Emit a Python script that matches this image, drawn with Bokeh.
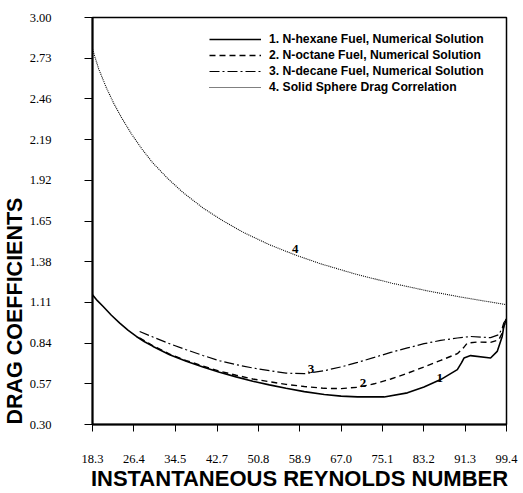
from bokeh.embed import file_html
from bokeh.models import FixedTicker, Legend, LegendItem, NumeralTickFormatter, Range1d, Title
from bokeh.plotting import figure
from bokeh.resources import INLINE

# Axis ticks
x_ticks = [18.3, 26.4, 34.5, 42.7, 50.8, 58.9, 67.0, 75.1, 83.2, 91.3, 99.4]
y_ticks = [0.30, 0.57, 0.84, 1.11, 1.38, 1.65, 1.92, 2.19, 2.46, 2.73, 3.00]

# 1. N-hexane fuel, numerical solution
hexane_re = [18.3, 19.3, 20.39, 22.0, 23.64, 25.3, 26.90, 28.5, 30.16, 33.41, 36.67, 39.93,
             43.18, 46.44, 49.70, 52.95, 56.21, 59.79, 63.70, 67.0, 70.22, 75.42, 79.99,
             83.24, 86.50, 89.77, 90.6, 91.07, 92.37, 96.28, 97.58, 98.56, 98.87, 99.4]
hexane_cd = [1.160, 1.120, 1.083, 1.025, 0.973, 0.925, 0.884, 0.849, 0.818, 0.763, 0.719, 0.682,
             0.646, 0.616, 0.587, 0.563, 0.540, 0.518, 0.499, 0.488, 0.483, 0.483, 0.510,
             0.549, 0.598, 0.664, 0.710, 0.741, 0.757, 0.741, 0.785, 0.884, 0.950, 1.000]

# 2. N-octane fuel, numerical solution
octane_re = [27.5, 30.16, 33.41, 36.67, 39.93, 43.18, 46.44, 49.70, 52.95, 56.21, 59.79,
             63.70, 67.0, 70.22, 73.5, 76.73, 80.0, 83.24, 86.5, 89.77, 91.0, 91.72,
             93.67, 96.28, 97.90, 98.56, 98.87, 99.4]
octane_cd = [0.875, 0.822, 0.767, 0.724, 0.688, 0.654, 0.627, 0.602, 0.584, 0.566, 0.552,
             0.540, 0.538, 0.547, 0.570, 0.602, 0.640, 0.682, 0.725, 0.770, 0.810, 0.840,
             0.847, 0.845, 0.862, 0.907, 0.950, 1.000]

# 3. N-decane fuel, numerical solution
decane_re = [27.54, 30.16, 33.41, 36.67, 39.93, 43.18, 46.44, 49.70, 52.95, 56.21, 59.79,
             63.70, 67.0, 70.22, 73.5, 76.73, 80.0, 83.24, 86.5, 89.77, 92.37, 94.5,
             96.28, 97.90, 98.56, 98.87, 99.4]
decane_cd = [0.917, 0.880, 0.836, 0.796, 0.758, 0.723, 0.697, 0.675, 0.657, 0.641, 0.637,
             0.657, 0.682, 0.712, 0.745, 0.778, 0.808, 0.836, 0.858, 0.874, 0.884, 0.880,
             0.876, 0.896, 0.940, 0.975, 1.000]

# 4. Solid sphere drag correlation
sphere_re = [18.3, 19.5, 21.0, 22.5, 24.0, 26.0, 28.0, 30.0, 33.0, 36.0, 40.0, 44.0,
             48.0, 53.0, 58.0, 63.0, 70.0, 77.0, 84.0, 91.0, 99.4]
sphere_cd = [2.790, 2.660, 2.535, 2.428, 2.335, 2.224, 2.127, 2.040, 1.933, 1.840, 1.735, 1.648,
             1.572, 1.492, 1.425, 1.366, 1.296, 1.237, 1.186, 1.142, 1.095]

legend_labels = [
    "1. N-hexane Fuel, Numerical Solution",
    "2. N-octane Fuel, Numerical Solution",
    "3. N-decane Fuel, Numerical Solution",
    "4. Solid Sphere Drag Correlation",
]

# Curve number tags placed along the curves
tag_text = ["1", "2", "3", "4"]
tag_re = [86.3, 71.3, 61.1, 58.0]
tag_cd = [0.611, 0.578, 0.671, 1.465]

SERIF = "Liberation Serif"
SANS = "Liberation Sans"

p = figure(
    width=523, height=493,
    x_range=Range1d(18.3, 99.4), y_range=Range1d(0.30, 3.00),
    output_backend="svg", toolbar_location=None,
    min_border_left=90, min_border_right=17, min_border_top=17, min_border_bottom=68,
)
p.background_fill_color = "white"
p.border_fill_color = "white"
p.grid.visible = False
p.outline_line_color = "black"
p.outline_line_width = 1.5

# x axis
xa = p.xaxis[0]
xa.ticker = FixedTicker(ticks=x_ticks)
xa.formatter = NumeralTickFormatter(format="0.0")
xa.major_tick_out = 7
xa.major_tick_in = 0
xa.minor_tick_out = 0
xa.minor_tick_in = 0
xa.axis_line_width = 2
xa.major_label_text_font = SERIF
xa.major_label_text_font_size = "12.5px"
xa.major_label_text_color = "black"
xa.major_label_standoff = 23
xa.axis_label = "INSTANTANEOUS REYNOLDS NUMBER"
xa.axis_label_text_font = SANS
xa.axis_label_text_font_style = "bold"
xa.axis_label_text_font_size = "22px"
xa.axis_label_text_color = "black"
xa.axis_label_standoff = 0

# y axis
ya = p.yaxis[0]
ya.ticker = FixedTicker(ticks=y_ticks)
ya.formatter = NumeralTickFormatter(format="0.00")
ya.major_tick_out = 8
ya.major_tick_in = 0
ya.minor_tick_out = 0
ya.minor_tick_in = 0
ya.axis_line_width = 2
ya.major_label_text_font = SERIF
ya.major_label_text_font_size = "12.5px"
ya.major_label_text_color = "black"
ya.major_label_standoff = 33

# Vertical axis title, anchored at the bottom of the frame
p.add_layout(Title(
    text="DRAG  COEFFICIENTS", align="left",
    text_font=SANS, text_font_style="bold", text_font_size="21.5px",
    text_color="black", standoff=0, offset=0,
), "left")

# Curves
r1 = p.line(hexane_re, hexane_cd, line_color="black", line_width=1.6)
r2 = p.line(octane_re, octane_cd, line_color="black", line_width=1.4, line_dash="6 4")
r3 = p.line(decane_re, decane_cd, line_color="black", line_width=1.2, line_dash="10 3 2 3")
r4 = p.line(sphere_re, sphere_cd, line_color="black", line_width=1.1, line_dash="1 1")

p.text(tag_re, tag_cd, text=tag_text, text_font=SANS, text_font_style="bold",
       text_font_size="13px", text_align="center", text_baseline="middle", text_color="black")

legend = Legend(
    items=[LegendItem(label=lab, renderers=[r]) for lab, r in zip(legend_labels, [r1, r2, r3, r4])],
    location=(117, 329),
    orientation="vertical",
    border_line_color=None,
    background_fill_alpha=0,
    padding=0, margin=0, spacing=0,
    glyph_width=52, glyph_height=16, label_height=16,
    label_standoff=8,
    label_text_font=SANS, label_text_font_style="bold", label_text_font_size="12.2px",
    label_text_color="black",
)
p.add_layout(legend, "center")

open("out.html", "w").write(file_html(p, INLINE))
